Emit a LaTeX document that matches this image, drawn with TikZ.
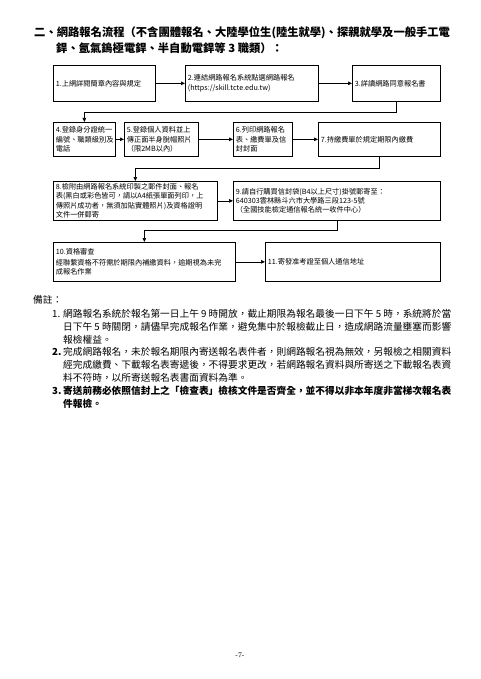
\documentclass[tikz,border=0pt]{standalone}
\usepackage{fontspec}
\newfontfamily\cjk{Noto Sans CJK TC}
\usetikzlibrary{arrows.meta}
\begin{document}
\begin{tikzpicture}[x=1pt,y=-1pt,
 bx/.style={draw, line width=0.7pt, anchor=north west, inner xsep=2.5pt, inner ysep=1pt, align=left, font=\cjk\fontsize{7.2}{9.3}\selectfont},
 arr/.style={line width=0.7pt, -{Triangle[length=4pt,width=3.5pt]}},
 ttl/.style={anchor=west, inner sep=0pt, font=\cjk\bfseries\fontsize{11.3}{14}\selectfont},
 nt/.style={anchor=west, inner sep=0pt, font=\cjk\fontsize{9.7}{12}\selectfont},
 ntb/.style={nt, font=\cjk\bfseries\fontsize{9.7}{12}\selectfont},
]
\useasboundingbox[fill=white] (0,0) rectangle (480,679);

% title
\node[ttl] (t1) at (34,33) {二、網路報名流程（不含團體報名、大陸學位生(陸生就學)、探親就學及一般手工電};
\node[ttl] (t2) at (56,48) {銲、氬氣鎢極電銲、半自動電銲等 3 職類）：};

% row 1
\node[bx, text width=97pt, minimum height=36pt] (b1) at (53,65) {1.上網詳閱簡章內容與規定};
\node[bx, text width=128pt, minimum height=36pt] (b2) at (185,65) {2.連結網路報名系統點選網路報名\\(https://skill.tcte.edu.tw)};
\node[bx, text width=83pt, minimum height=36pt] (b3) at (352,65) {3.詳讀網路同意報名書};

% row 2
\node[bx, text width=57pt, minimum height=34pt] (b4) at (53,122) {4.登錄身分證統一\\編號、職類級別及\\電話};
\node[bx, text width=69pt, minimum height=34pt] (b5) at (124,122) {5.登錄個人資料並上\\傳正面半身脫帽照片\\（限2MB以內）};
\node[bx, text width=54pt, minimum height=34pt] (b6) at (233,122) {6.列印網路報名\\表、繳費單及信\\封封面};
\node[bx, text width=117pt, minimum height=34pt] (b7) at (318,122) {7.持繳費單於規定期限內繳費};

% row 3
\node[bx, text width=159pt, minimum height=39pt] (b8) at (53,181) {8.檢附由網路報名系統印製之郵件封面、報名\\表(黑白或彩色皆可，請以A4紙張單面列印，上\\傳照片成功者，無須加貼實體照片)及資格證明\\文件一併郵寄};
\node[bx, text width=202pt, minimum height=39pt] (b9) at (233,181) {9.請自行購買信封袋(B4以上尺寸)掛號郵寄至：\\640303雲林縣斗六市大學路三段123-5號\\（全國技能檢定通信報名統一收件中心）};

% row 4
\node[bx, text width=177pt, minimum height=39pt] (b10) at (53,242) {10.資格審查\\[2pt]經聯繫資格不符需於期限內補繳資料，逾期視為未完\\成報名作業};
\node[bx, text width=170pt, minimum height=39pt] (b11) at (265,242) {11.寄發准考證至個人通信地址};

% connectors
\draw[arr] (b1.east) -- (b2.west);
\draw[arr] (b2.east) -- (b3.west);
\draw[arr] (b3.south) -- ++(0,11) -| (b4.north);
\draw[arr] (b4.east) -- (b5.west);
\draw[arr] (b5.east) -- (b6.west);
\draw[arr] (b6.east) -- (b7.west);
\draw[arr] (b7.south) -- ++(0,12) -| (b8.north);
\draw[arr] (b8.east) -- (b9.west);
\draw[arr] (b9.south) -- ++(0,10) -| (b10.north);
\draw[arr] (b10.east) -- (b11.west);

% notes
\node[nt] (nh) at (33,300) {備註：};
\node[nt] (n1) at (52,314) {1.};
\node[nt] (n1a) at (63,314) {網路報名系統於報名第一日上午 9 時開放，截止期限為報名最後一日下午 5 時，系統將於當};
\node[nt] (n1b) at (63,327) {日下午 5 時關閉，請儘早完成報名作業，避免集中於報檢截止日，造成網路流量壅塞而影響};
\node[nt] (n1c) at (63,340) {報檢權益。};
\node[ntb] (n2) at (52,352) {2.};
\node[nt] (n2a) at (63,352) {完成網路報名，未於報名期限內寄送報名表件者，則網路報名視為無效，另報檢之相關資料};
\node[nt] (n2b) at (63,365) {經完成繳費、下載報名表寄遞後，不得要求更改，若網路報名資料與所寄送之下載報名表資};
\node[nt] (n2c) at (63,378) {料不符時，以所寄送報名表書面資料為準。};
\node[ntb] (n3) at (52,391) {3.};
\node[ntb] (n3a) at (63,391) {寄送前務必依照信封上之「檢查表」檢核文件是否齊全，並不得以非本年度非當梯次報名表};
\node[ntb] (n3b) at (63,404) {件報檢。};

% page number
\node[font=\fontsize{7}{8}\selectfont] (pg) at (240,655) {-7-};
\end{tikzpicture}
\end{document}
